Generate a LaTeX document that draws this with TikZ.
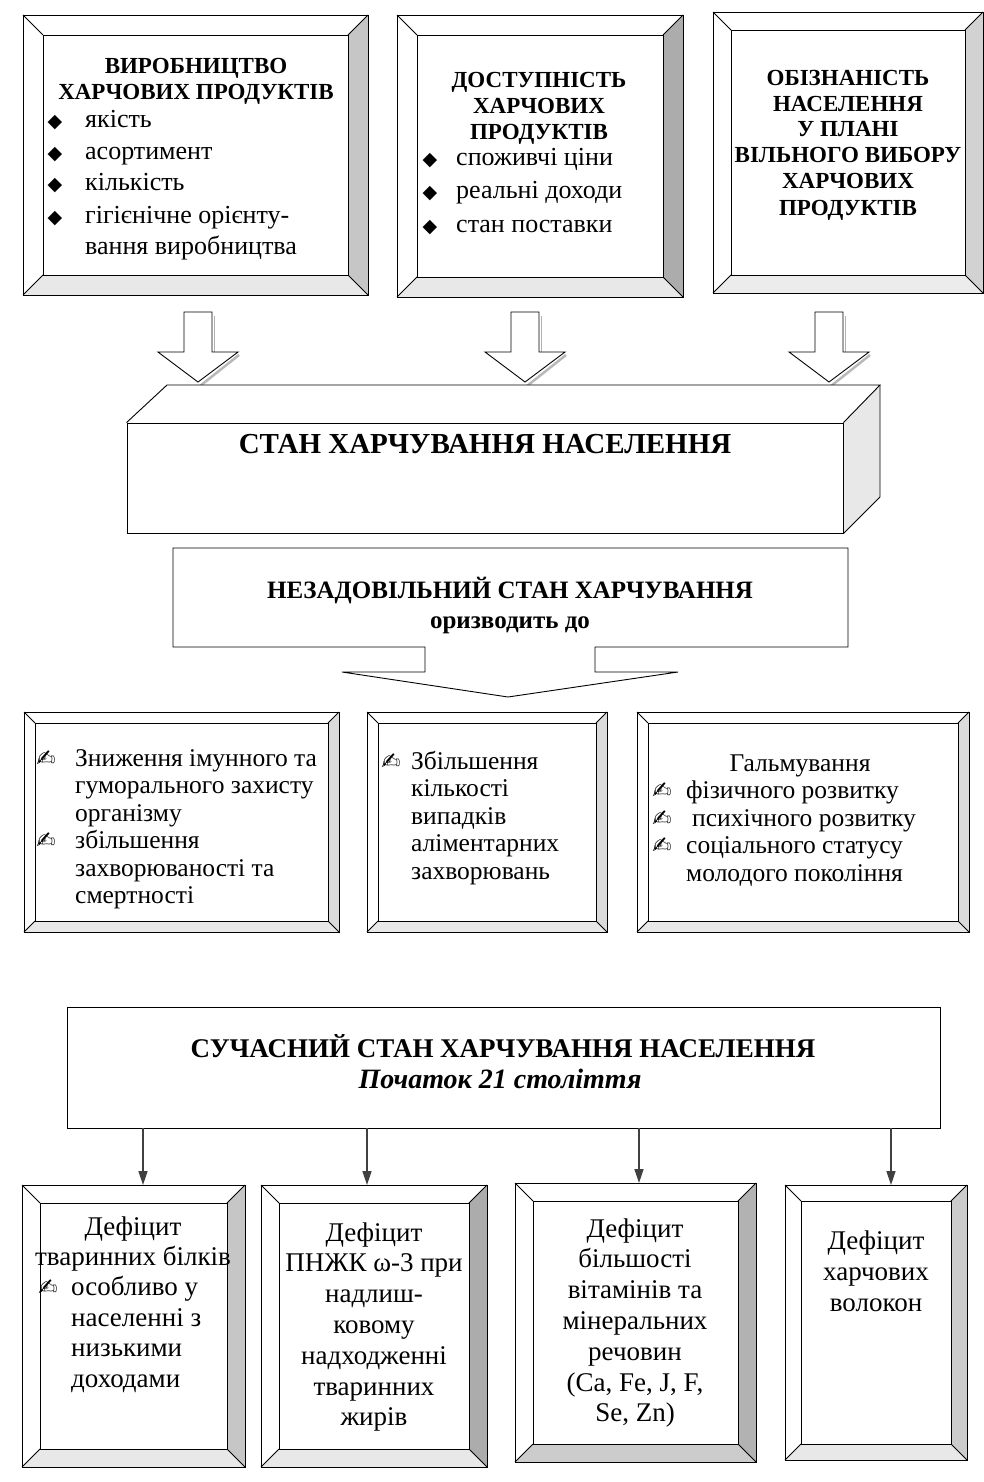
\documentclass[tikz,border=0pt]{standalone}
\usepackage{fontspec}
\setmainfont{Liberation Serif}
\newfontfamily\dvsym{DejaVu Sans}
\usetikzlibrary{arrows.meta}
\tikzset{
 bl/.style={line width=0.9pt, line join=miter},
 boxnode/.style={inner sep=0pt, outer sep=0pt, draw=none},
 ttl/.style={inner sep=0pt, font=\fontsize{23}{26}\selectfont\bfseries, anchor=base},
 tx/.style={inner sep=0pt, font=\fontsize{26}{32}\selectfont, anchor=base west},
 mx/.style={inner sep=0pt, font=\fontsize{25.5}{30}\selectfont, anchor=base west},
 mxc/.style={inner sep=0pt, font=\fontsize{25.5}{30}\selectfont, anchor=base},
 bx/.style={inner sep=0pt, font=\fontsize{27}{30}\selectfont, anchor=base},
 bxl/.style={inner sep=0pt, font=\fontsize{27}{30}\selectfont, anchor=base west},
 dia/.style={inner sep=0pt, font=\dvsym\fontsize{19}{20}\selectfont, anchor=base},
 pen/.style={inner sep=0pt, font=\dvsym\fontsize{23}{24}\selectfont, anchor=base},
 arr/.style={line width=1.5pt, draw=black!75, -{Triangle[length=14pt,width=9pt]}},
 blockarrow/.style={bl, fill=white},
}
% #1 name, #2 x1, #3 y1, #4 x2, #5 y2, #6 bevel, #7 right fill, #8 bottom fill
\newcommand\bev[8]{%
 \node[boxnode, minimum width={#4-#2}, minimum height={#5-#3}] (#1) at ({(#2+#4)/2},{(#3+#5)/2}) {};
 \fill[white] (#2,#3) rectangle (#4,#5);
 \fill[#7] (#4,#3) -- (#4,#5) -- (#4-#6,#5-#6) -- (#4-#6,#3+#6) -- cycle;
 \fill[#8] (#2,#5) -- (#4,#5) -- (#4-#6,#5-#6) -- (#2+#6,#5-#6) -- cycle;
 \draw[bl] (#2,#3) rectangle (#4,#5);
 \draw[bl] (#2+#6,#3+#6) rectangle (#4-#6,#5-#6);
 \draw[bl] (#2,#3) -- (#2+#6,#3+#6) (#4,#3) -- (#4-#6,#3+#6) (#2,#5) -- (#2+#6,#5-#6) (#4,#5) -- (#4-#6,#5-#6);
}
% block arrow, #1 centre x
\newcommand\barrow[1]{%
 \draw[gray!60, line width=1pt] (#1+16,316) -- (#1+16,352);
 \draw[gray!55, line width=2.5pt] (#1+41,355) -- (#1+2,386);
 \draw[blockarrow] (#1-14,312) -- (#1+14,312) -- (#1+14,352) -- (#1+40,352) -- (#1,382) -- (#1-40,352) -- (#1-14,352) -- cycle;
}
\begin{document}
\begin{tikzpicture}[x=1pt,y=-1pt]
\useasboundingbox (0,0) rectangle (984,1482);
\fill[white] (0,0) rectangle (984,1482);

% ---------- top boxes ----------
\bev{t1}{23}{15}{368}{295}{20}{gray!45}{gray!18}
\node[ttl] (t1h1) at (196,74) {ВИРОБНИЦТВО};
\node[ttl] (t1h2) at (196,100) {ХАРЧОВИХ ПРОДУКТІВ};
\node[dia] (t1d1) at (55,128) {◆};
\node[dia] (t1d2) at (55,160) {◆};
\node[dia] (t1d3) at (55,191) {◆};
\node[dia] (t1d4) at (55,223) {◆};
\node[tx] (t1a) at (85,128) {якість};
\node[tx] (t1b) at (85,160) {асортимент};
\node[tx] (t1c) at (85,191) {кількість};
\node[tx] (t1e) at (85,223) {гігієнічне орієнту-};
\node[tx] (t1f) at (85,254) {вання виробництва};

\bev{t2}{397}{15}{683}{297}{20}{gray!65}{gray!18}
\node[ttl] (t2h1) at (539,88) {ДОСТУПНІСТЬ};
\node[ttl] (t2h2) at (539,114) {ХАРЧОВИХ};
\node[ttl] (t2h3) at (539,140) {ПРОДУКТІВ};
\node[dia] (t2d1) at (430,166) {◆};
\node[dia] (t2d2) at (430,199) {◆};
\node[dia] (t2d3) at (430,233) {◆};
\node[tx] (t2a) at (456,166) {споживчі ціни};
\node[tx] (t2b) at (456,199) {реальні доходи};
\node[tx] (t2c) at (456,233) {стан поставки};

\bev{t3}{713}{12}{983}{293}{18}{gray!35}{gray!15}
\node[ttl] (t3h1) at (848,86) {ОБІЗНАНІСТЬ};
\node[ttl] (t3h2) at (848,112) {НАСЕЛЕННЯ};
\node[ttl] (t3h3) at (848,137) {У ПЛАНІ};
\node[ttl] (t3h4) at (848,163) {ВІЛЬНОГО ВИБОРУ};
\node[ttl] (t3h5) at (848,189) {ХАРЧОВИХ};
\node[ttl] (t3h6) at (848,215) {ПРОДУКТІВ};

% ---------- block arrows ----------
\barrow{198}
\barrow{525}
\barrow{829}

% ---------- 3D box ----------
\fill[white] (167,385) -- (880,385) -- (843,423) -- (127,423) -- cycle;
\fill[gray!18] (843,423) -- (880,385) -- (880,497) -- (843,533) -- cycle;
\node[bl, draw, fill=white, minimum width=716, minimum height=110, inner sep=0pt] (stan) at (485,478) {};
\draw[bl] (stan.north west) -- (167,385) -- (880,385) -- (stan.north east);
\draw[bl] (880,385) -- (880,497) -- (stan.south east);
\node[inner sep=0pt, anchor=base, font=\fontsize{29}{32}\selectfont\bfseries] (stant) at (485,453) {СТАН ХАРЧУВАННЯ НАСЕЛЕННЯ};

% ---------- callout ----------
\draw[bl, fill=white] (173,548) -- (848,548) -- (848,647) -- (595,647) -- (595,672) -- (678,672) -- (508,697) -- (342,672) -- (425,672) -- (425,647) -- (173,647) -- cycle;
\node[inner sep=0pt, anchor=base, font=\fontsize{25}{28}\selectfont\bfseries] (nez1) at (510,598) {НЕЗАДОВІЛЬНИЙ СТАН ХАРЧУВАННЯ};
\node[inner sep=0pt, anchor=base, font=\fontsize{25}{28}\selectfont\bfseries] (nez2) at (510,628) {оризводить до};

% ---------- middle boxes ----------
\bev{m1}{24}{712}{339}{932}{11}{gray!28}{gray!18}
\node[pen] (m1p1) at (46,766) {✍};
\node[pen] (m1p2) at (46,848.5) {✍};
\node[mx] (m1a) at (75,766) {Зниження імунного та};
\node[mx] (m1b) at (75,793.5) {гуморального захисту};
\node[mx] (m1c) at (75,821) {організму};
\node[mx] (m1d) at (75,848.5) {збільшення};
\node[mx] (m1e) at (75,876) {захворюваності та};
\node[mx] (m1f) at (75,903.5) {смертності};

\bev{m2}{367}{712}{607}{932}{11}{gray!28}{gray!18}
\node[pen] (m2p1) at (391,769) {✍};
\node[mx] (m2a) at (411,769) {Збільшення};
\node[mx] (m2b) at (411,796.5) {кількості};
\node[mx] (m2c) at (411,824) {випадків};
\node[mx] (m2d) at (411,851.5) {аліментарних};
\node[mx] (m2e) at (411,879) {захворювань};

\bev{m3}{637}{712}{969}{932}{11}{gray!28}{gray!18}
\node[mxc] (m3a) at (800,771) {Гальмування};
\node[pen] (m3p1) at (662,798.5) {✍};
\node[pen] (m3p2) at (662,826) {✍};
\node[pen] (m3p3) at (662,853.5) {✍};
\node[mx] (m3b) at (686,798.5) {фізичного розвитку};
\node[mx] (m3c) at (692,826) {психічного розвитку};
\node[mx] (m3d) at (686,853.5) {соціального статусу};
\node[mx] (m3e) at (686,881) {молодого покоління};

% ---------- bottom ----------
\node[bl, draw, fill=white, minimum width=873, minimum height=121, inner sep=0pt] (suc) at (503.5,1067.5) {};
\node[inner sep=0pt, anchor=base, font=\fontsize{27}{30}\selectfont\bfseries] (suct1) at (503,1057) {СУЧАСНИЙ СТАН ХАРЧУВАННЯ НАСЕЛЕННЯ};
\node[inner sep=0pt, anchor=base, font=\fontsize{28}{30}\selectfont\bfseries\itshape] (suct2) at (500,1088) {Початок 21 століття};

\bev{d1}{22}{1185}{245}{1467}{18}{gray!45}{gray!18}
\node[bx] (d1a) at (133,1235) {Дефіцит};
\node[bx] (d1b) at (133,1265) {тваринних білків};
\node[pen] (d1p) at (48,1295) {✍};
\node[bxl] (d1c) at (71,1295) {особливо у};
\node[bxl] (d1d) at (71,1326) {населенні з};
\node[bxl] (d1e) at (71,1356) {низькими};
\node[bxl] (d1f) at (71,1387) {доходами};

\bev{d2}{261}{1185}{487}{1467}{18}{gray!65}{gray!18}
\node[bx] (d2a) at (374,1241) {Дефіцит};
\node[bx] (d2b) at (374,1271.8) {ПНЖК ω-3 при};
\node[bx] (d2c) at (374,1302.6) {надлиш-};
\node[bx] (d2d) at (374,1333.4) {ковому};
\node[bx] (d2e) at (374,1364.2) {надходженні};
\node[bx] (d2f) at (374,1395) {тваринних};
\node[bx] (d2g) at (374,1425.8) {жирів};

\bev{d3}{515}{1183}{756}{1462}{18}{gray!60}{gray!40}
\node[bx] (d3a) at (635,1237) {Дефіцит};
\node[bx] (d3b) at (635,1267.8) {більшості};
\node[bx] (d3c) at (635,1298.6) {вітамінів та};
\node[bx] (d3d) at (635,1329.4) {мінеральних};
\node[bx] (d3e) at (635,1360.2) {речовин};
\node[bx] (d3f) at (635,1391) {(Ca, Fe, J, F,};
\node[bx] (d3g) at (635,1421.8) {Se, Zn)};

\bev{d4}{785}{1185}{967}{1460}{16}{gray!40}{gray!18}
\node[bx] (d4a) at (876,1249) {Дефіцит};
\node[bx] (d4b) at (876,1280) {харчових};
\node[bx] (d4c) at (876,1311) {волокон};

\coordinate (e1) at ([xshift=9.5pt]d1.north);
\coordinate (e2) at ([xshift=-7pt]d2.north);
\coordinate (e3) at ([xshift=3.5pt]d3.north);
\coordinate (e4) at ([xshift=15pt]d4.north);
\draw[arr] (suc.south -| e1) -- (e1);
\draw[arr] (suc.south -| e2) -- (e2);
\draw[arr] (suc.south -| e3) -- (e3);
\draw[arr] (suc.south -| e4) -- (e4);
\end{tikzpicture}
\end{document}
